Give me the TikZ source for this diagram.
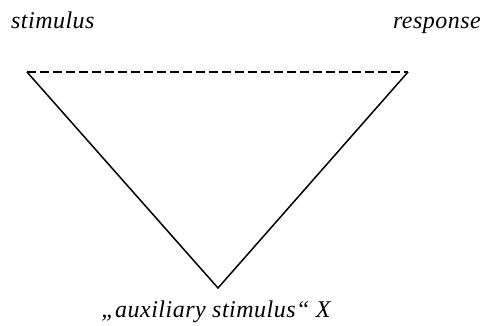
\documentclass[tikz,border=0pt]{standalone}
\usepackage{fontspec}
\setmainfont{Liberation Serif}
\usepackage{tikz}
\usetikzlibrary{positioning}
\tikzset{
    % Corner labels - italic serif, slightly letter-spaced
    term/.style={
        font=\fontsize{24}{28}\selectfont\itshape\addfontfeature{LetterSpace=2},
        inner sep=0pt,
        text=black,
    },
    % Triangle sides
    side/.style={
        line width=1.5pt,
        draw=black,
        line join=miter,
    },
    % Dashed top side
    side dashed/.style={
        side,
        dash pattern=on 8.5pt off 4.5pt,
    },
}
\begin{document}
\begin{tikzpicture}[x=1pt, y=-1pt]
    \useasboundingbox (0,0) rectangle (492,325);
    \coordinate (stim) at (27,72);
    \coordinate (resp) at (408,72);
    \coordinate (aux) at (218,288);

    \node (stimlabel) [term, anchor=base west] at (11,28) {stimulus};
    \node (resplabel) [term, anchor=base east] at (481,28) {response};
    \node (auxlabel) [term, anchor=base] at (216,317) {„auxiliary stimulus“ X};

    \draw [side dashed] (stim) -- (resp);
    \draw [side] (stim) -- (aux) -- (resp);
\end{tikzpicture}
\end{document}
